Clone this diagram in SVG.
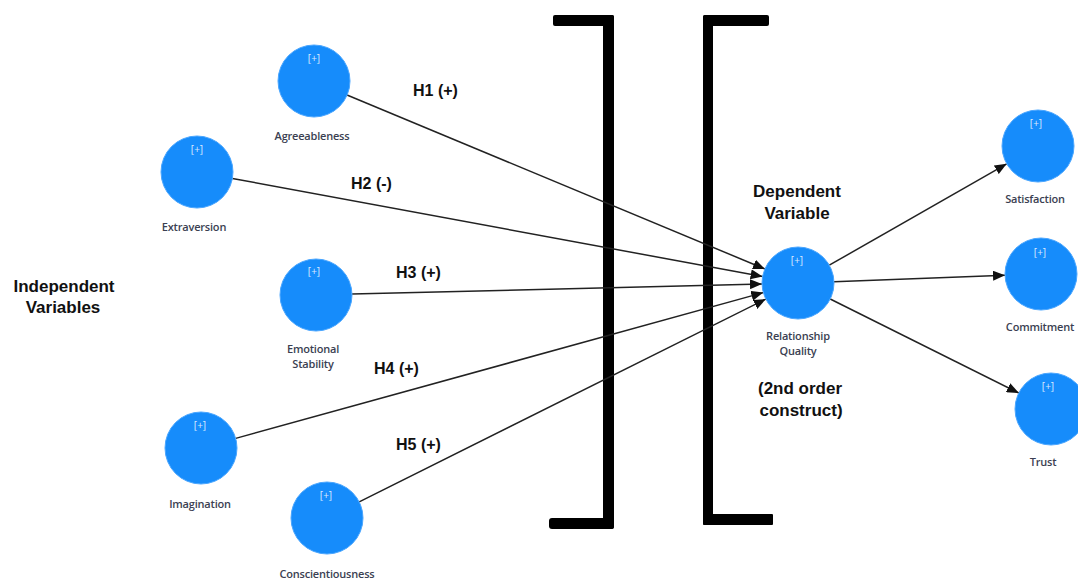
<svg xmlns="http://www.w3.org/2000/svg" width="1078" height="579" viewBox="0 0 1078 579">
  <style>
    .node circle { fill: #168cfb; stroke: #4aa6ff; stroke-width: 1; }
    .plus { font-family: "Open Sans", "Noto Sans", sans-serif; font-size: 10px; fill: #dbeaff; text-anchor: middle; }
    .lbl { font-family: "Open Sans", "Noto Sans", sans-serif; font-size: 11px; font-weight: 600; fill: #3b3f52; text-anchor: middle; letter-spacing: -0.2px; }
    .hyp { font-family: "Liberation Sans", Arial, sans-serif; font-size: 16px; font-weight: bold; fill: #111; }
    .head { font-family: "Liberation Sans", Arial, sans-serif; font-size: 17px; font-weight: bold; fill: #111; text-anchor: middle; }
    .edge { stroke: #222; stroke-width: 1.5; fill: none; marker-end: url(#arrow); }
    .bracket { fill: #000; }
  </style>
  <defs>
    <marker id="arrow" viewBox="0 0 12 10" refX="12" refY="5" markerWidth="12" markerHeight="10" markerUnits="userSpaceOnUse" orient="auto">
      <path d="M0,0 L12,5 L0,10 z" fill="#111"/>
    </marker>
  </defs>
  <rect width="1078" height="579" fill="#fff"/>

  <!-- brackets around the dependent construct -->
  <g id="brackets">
    <rect class="bracket" x="553" y="15" width="61" height="11" rx="2"/>
    <rect class="bracket" x="603" y="15" width="11" height="514" rx="2"/>
    <rect class="bracket" x="549" y="518" width="65" height="11" rx="3"/>
    <rect class="bracket" x="703" y="15" width="66" height="11" rx="2"/>
    <rect class="bracket" x="703" y="15" width="10" height="510" rx="2"/>
    <rect class="bracket" x="703" y="514" width="70" height="11" rx="1"/>
  </g>

  <!-- paths -->
  <g id="connectors">
    <line class="edge" x1="347" y1="95" x2="765" y2="269"/>
    <line class="edge" x1="232.4" y1="178.5" x2="762.6" y2="276.5"/>
    <line class="edge" x1="352" y1="294.1" x2="762" y2="283.9"/>
    <line class="edge" x1="235.7" y1="438.4" x2="763.3" y2="292.6"/>
    <line class="edge" x1="359.2" y1="501.9" x2="765.8" y2="299.1"/>
    <line class="edge" x1="829.3" y1="265.2" x2="1006.7" y2="163.8"/>
    <line class="edge" x1="834" y1="281.7" x2="1005" y2="275.3"/>
    <line class="edge" x1="830.2" y1="299" x2="1018.8" y2="393"/>
  </g>

  <!-- hypothesis labels -->
  <g id="hypotheses">
    <text class="hyp" x="413" y="96">H1 (+)</text>
    <text class="hyp" x="351" y="189">H2 (-)</text>
    <text class="hyp" x="396" y="278">H3 (+)</text>
    <text class="hyp" x="374" y="374">H4 (+)</text>
    <text class="hyp" x="396" y="450">H5 (+)</text>
  </g>

  <!-- section headings -->
  <g id="headings">
    <text class="head" x="64" y="292">Independent</text>
    <text class="head" x="63" y="313">Variables</text>
    <text class="head" x="797" y="197">Dependent</text>
    <text class="head" x="797" y="219">Variable</text>
    <text class="head" x="800" y="394">(2nd order</text>
    <text class="head" x="801" y="416">construct)</text>
  </g>

  <g id="agreeableness" class="node">
    <circle cx="314" cy="81" r="36"/>
    <text class="plus" x="314" y="62">[+]</text>
    <text class="lbl" x="312" y="140">Agreeableness</text>
  </g>
  <g id="extraversion" class="node">
    <circle cx="197" cy="172" r="36"/>
    <text class="plus" x="197" y="153">[+]</text>
    <text class="lbl" x="194" y="231">Extraversion</text>
  </g>
  <g id="emotional-stability" class="node">
    <circle cx="316" cy="295" r="36"/>
    <text class="plus" x="314" y="275">[+]</text>
    <text class="lbl" x="313" y="353">Emotional</text>
    <text class="lbl" x="313" y="368">Stability</text>
  </g>
  <g id="imagination" class="node">
    <circle cx="201" cy="448" r="36"/>
    <text class="plus" x="200" y="429">[+]</text>
    <text class="lbl" x="200" y="508">Imagination</text>
  </g>
  <g id="conscientiousness" class="node">
    <circle cx="327" cy="518" r="36"/>
    <text class="plus" x="326" y="499">[+]</text>
    <text class="lbl" x="327" y="578">Conscientiousness</text>
  </g>
  <g id="relationship-quality" class="node">
    <circle cx="798" cy="283" r="36"/>
    <text class="plus" x="797" y="264">[+]</text>
    <text class="lbl" x="798" y="340">Relationship</text>
    <text class="lbl" x="798" y="355">Quality</text>
  </g>
  <g id="satisfaction" class="node">
    <circle cx="1038" cy="146" r="36"/>
    <text class="plus" x="1036" y="127">[+]</text>
    <text class="lbl" x="1035" y="203">Satisfaction</text>
  </g>
  <g id="commitment" class="node">
    <circle cx="1041" cy="274" r="36"/>
    <text class="plus" x="1040" y="256">[+]</text>
    <text class="lbl" x="1040" y="331">Commitment</text>
  </g>
  <g id="trust" class="node">
    <circle cx="1051" cy="409" r="36"/>
    <text class="plus" x="1048" y="390">[+]</text>
    <text class="lbl" x="1043" y="466">Trust</text>
  </g>
</svg>
